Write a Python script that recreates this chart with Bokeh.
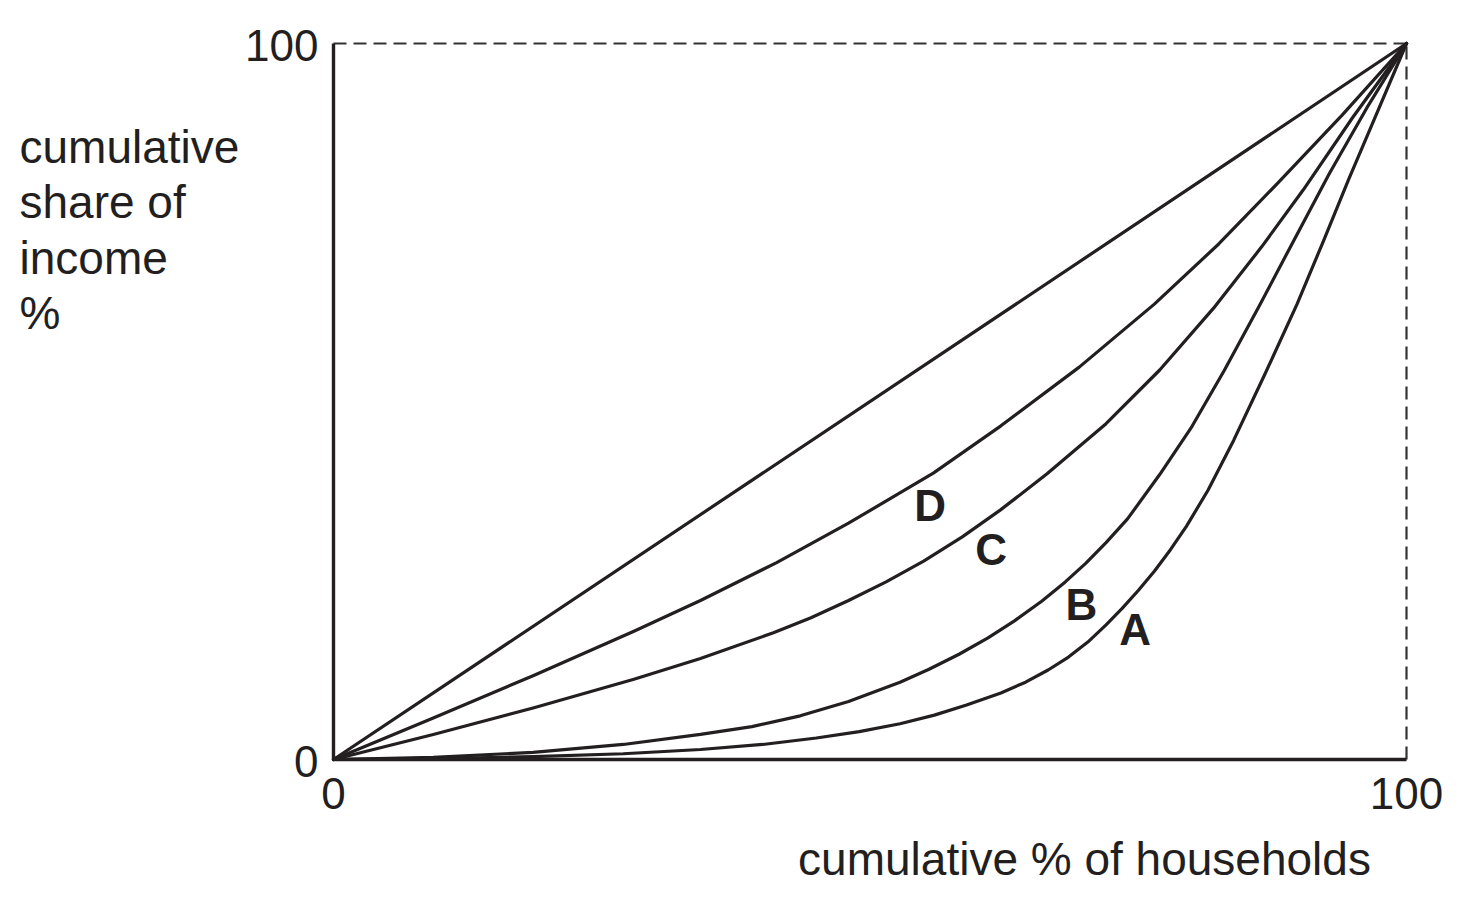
from bokeh.plotting import figure
from bokeh.models import Range1d, Label
from bokeh.core.properties import value
from bokeh.embed import file_html
from bokeh.resources import INLINE

# ---- data ----
equality_x = [0, 100]
equality_y = [0, 100]

d_x = [0, 9.3, 18.6, 28.0, 34.2, 41.3, 48.0, 55.9, 62.2, 69.5, 76.5, 82.5, 88.0, 94.0, 100]
d_y = [0, 5.8, 11.7, 17.9, 22.2, 27.5, 33.0, 40.0, 46.6, 54.8, 63.6, 72.0, 80.5, 90.0, 100]

c_x = [0, 9.3, 18.6, 28.0, 34.2, 41.0, 44.5, 48.0, 51.5, 55.0, 58.6, 62.2, 66.5, 72.0,
       77.0, 82.0, 86.5, 90.4, 95.0, 100]
c_y = [0, 3.5, 7.2, 11.2, 14.1, 17.7, 19.8, 22.2, 24.8, 27.7, 31.1, 34.9, 39.9, 46.9,
       54.4, 63.0, 71.6, 79.6, 89.7, 100]

b_x = [0, 9.3, 18.6, 27.0, 34.2, 39.0, 43.5, 48.0, 52.8, 55.5, 58.3, 61.0, 63.5, 66.0,
       68.2, 70.1, 72.0, 74.0, 77.0, 80.0, 83.0, 86.3, 89.5, 92.8, 96.3, 100]
b_y = [0, 0.3, 1.0, 2.1, 3.5, 4.6, 6.1, 8.1, 10.8, 12.6, 14.7, 17.0, 19.4, 22.1,
       24.8, 27.4, 30.3, 33.6, 39.8, 46.5, 54.3, 63.4, 72.5, 81.8, 91.0, 100]

a_x = [0, 9.3, 18.6, 27.0, 34.2, 40.0, 45.0, 49.0, 52.8, 56.0, 59.0, 62.2, 64.5, 66.6,
       68.5, 70.3, 72.0, 73.5, 75.0, 76.5, 78.0, 79.5, 81.5, 83.9, 86.8, 89.8, 92.2,
       94.6, 97.3, 100]
a_y = [0, 0.1, 0.4, 0.8, 1.4, 2.1, 3.0, 3.9, 5.0, 6.2, 7.6, 9.3, 10.8, 12.5,
       14.3, 16.4, 18.8, 21.1, 23.6, 26.3, 29.3, 32.6, 37.6, 44.6, 53.8, 63.6, 72.2,
       81.0, 90.5, 100]

curve_names = ["D", "C", "B", "A"]
name_x = [55.6, 61.3, 69.7, 74.7]
name_y = [35.5, 29.3, 21.6, 18.2]

tick_values = [0, 100]
tick_labels = ["0", "100"]
x_title = "cumulative % of households"
y_title_lines = ["cumulative", "share of", "income", "%"]

# ---- layout constants (pixels) ----
W, H = 1462, 898
PX_LEFT, PX_RIGHT = 333, 1406      # pixel x of data 0 and 100
PX_TOP, PX_BOTTOM = 43, 759        # pixel y of data 100 and 0
sx = (PX_RIGHT - PX_LEFT) / 100.0
sy = (PX_BOTTOM - PX_TOP) / 100.0

INK = "#231f20"
FONT = "Liberation Sans"

p = figure(width=W, height=H,
           x_range=Range1d(-PX_LEFT / sx, 100 + (W - PX_RIGHT) / sx),
           y_range=Range1d(-(H - PX_BOTTOM) / sy, 100 + PX_TOP / sy),
           x_axis_location=None, y_axis_location=None,
           min_border=0, min_border_left=0, min_border_right=0,
           min_border_top=0, min_border_bottom=0,
           output_backend="svg", toolbar_location=None)
p.outline_line_color = None
p.grid.visible = False
p.background_fill_color = "white"
p.border_fill_color = "white"

lo, hi = tick_values[0], tick_values[-1]

# dashed frame (top and right)
p.line([lo, hi], [hi, hi], line_color="#333333", line_width=2.2, line_dash="13 7")
p.line([hi, hi], [lo, hi], line_color="#333333", line_width=2.2, line_dash="13 7")

# curves
for xs, ys in [(equality_x, equality_y), (d_x, d_y), (c_x, c_y), (b_x, b_y), (a_x, a_y)]:
    p.line(xs, ys, line_color=INK, line_width=3.2, line_join="round", line_cap="round")

# solid axes (left and bottom)
p.line([lo, lo], [lo, hi], line_color=INK, line_width=3.4)
p.line([lo, hi], [lo, lo], line_color=INK, line_width=3.4)

# tick labels
p.text(x=[lo, lo], y=tick_values, text=tick_labels, x_offset=-15, y_offset=2,
       text_font=value(FONT), text_font_size="44px", text_color=INK,
       text_align="right", text_baseline="middle")
p.text(x=tick_values, y=[lo, lo], text=tick_labels, x_offset=0, y_offset=34,
       text_font=value(FONT), text_font_size="44px", text_color=INK,
       text_align="center", text_baseline="middle")

# curve names
p.text(x=name_x, y=name_y, text=curve_names,
       text_font=value(FONT), text_font_style="bold", text_font_size="44px",
       text_color=INK, text_align="center", text_baseline="middle")

# axis titles
p.add_layout(Label(x=1084, y=H - 858, x_units="screen", y_units="screen",
                   text=x_title, text_font=FONT, text_font_size="46px",
                   text_color=INK, text_align="center", text_baseline="middle"))

for i, line in enumerate(y_title_lines):
    p.add_layout(Label(x=19, y=H - (146 + 55.5 * i), x_units="screen", y_units="screen",
                       text=line, text_font=FONT, text_font_size="46px",
                       text_color=INK, text_align="left", text_baseline="middle"))

open("out.html", "w").write(file_html(p, INLINE))
